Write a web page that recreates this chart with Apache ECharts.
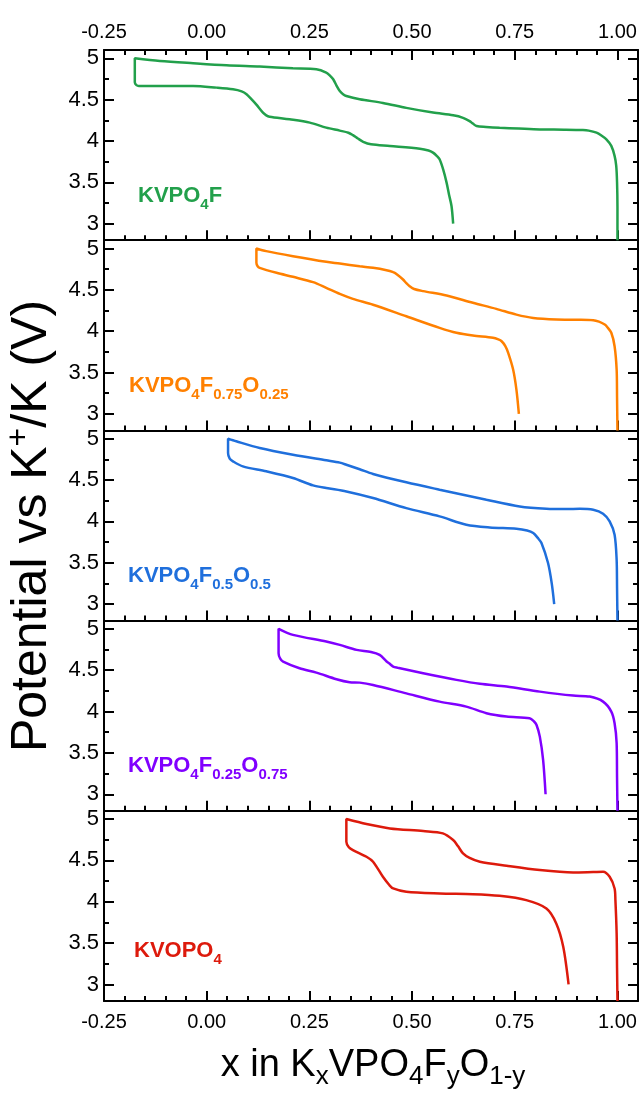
<!DOCTYPE html>
<html><head><meta charset="utf-8">
<script src="https://cdn.jsdelivr.net/npm/echarts@6/dist/echarts.min.js"></script>
<style>html,body{margin:0;padding:0;background:#fff}#c{width:642px;height:1095px}</style>
</head><body><div id="c"></div>
<script>
// ---------- data ----------
const xMajorTicks = [-0.25, 0, 0.25, 0.5, 0.75, 1.0];
const xMinorTicks = [-0.2,-0.15,-0.1,-0.05,0.05,0.1,0.15,0.2,0.3,0.35,0.4,0.45,0.55,0.6,0.65,0.7,0.8,0.85,0.9,0.95];
const yMajorTicks = [3, 3.5, 4, 4.5, 5];
const yMinorTicks = [3.25, 3.75, 4.25, 4.75];

const materials = ['KVPO4F', 'KVPO4F0.75O0.25', 'KVPO4F0.5O0.5', 'KVPO4F0.25O0.75', 'KVOPO4'];

const kvpo4fCharge = [[1.0,2.8],[1.0,3.2],[0.999,3.5],[0.997,3.7],[0.993,3.82],[0.985,3.94],[0.973,4.02],[0.96,4.07],[0.949,4.10],[0.93,4.125],[0.916,4.132],[0.87,4.137],[0.811,4.14],[0.76,4.15],[0.713,4.16],[0.68,4.17],[0.657,4.18],[0.648,4.21],[0.640,4.24],[0.624,4.28],[0.600,4.31],[0.551,4.343],[0.486,4.40],[0.429,4.46],[0.3725,4.505],[0.340,4.544],[0.332,4.565],[0.324,4.604],[0.316,4.67],[0.308,4.746],[0.300,4.79],[0.291,4.827],[0.267,4.867],[0.210,4.879],[0.129,4.899],[0.048,4.915],[-0.033,4.94],[-0.114,4.968],[-0.175,5.0]];
const kvpo4fDischarge = [[-0.175,5.0],[-0.175,4.80],[-0.175,4.71],[-0.171,4.675],[-0.165,4.665],[-0.114,4.665],[-0.033,4.665],[0.024,4.645],[0.064,4.625],[0.085,4.6],[0.097,4.565],[0.110,4.50],[0.121,4.44],[0.137,4.343],[0.145,4.31],[0.153,4.294],[0.202,4.262],[0.251,4.222],[0.291,4.161],[0.324,4.125],[0.345,4.10],[0.356,4.07],[0.368,4.03],[0.381,3.99],[0.40,3.96],[0.446,3.94],[0.519,3.907],[0.540,3.885],[0.551,3.859],[0.560,3.82],[0.567,3.778],[0.576,3.65],[0.584,3.496],[0.590,3.35],[0.596,3.213],[0.600,3.0]];

const f75Charge = [[1.0,2.8],[0.999,3.2],[0.998,3.536],[0.993,3.818],[0.985,3.98],[0.975,4.05],[0.969,4.08],[0.955,4.115],[0.941,4.133],[0.9,4.138],[0.851,4.141],[0.795,4.16],[0.754,4.20],[0.705,4.27],[0.648,4.343],[0.584,4.431],[0.527,4.484],[0.505,4.51],[0.494,4.544],[0.486,4.58],[0.478,4.625],[0.465,4.68],[0.454,4.713],[0.435,4.74],[0.405,4.766],[0.3725,4.785],[0.324,4.818],[0.291,4.839],[0.210,4.907],[0.145,4.968],[0.121,5.0]];
const f75Discharge = [[0.121,5.0],[0.121,4.90],[0.121,4.827],[0.124,4.785],[0.129,4.766],[0.170,4.706],[0.210,4.657],[0.259,4.593],[0.291,4.524],[0.324,4.45],[0.356,4.39],[0.405,4.32],[0.486,4.18],[0.567,4.04],[0.608,3.98],[0.648,3.947],[0.697,3.92],[0.710,3.90],[0.718,3.878],[0.727,3.82],[0.734,3.738],[0.746,3.536],[0.754,3.294],[0.760,3.0]];

const f50Charge = [[1.0,2.8],[0.999,3.2],[0.998,3.536],[0.993,3.838],[0.981,4.0],[0.965,4.093],[0.941,4.141],[0.908,4.153],[0.876,4.149],[0.827,4.153],[0.762,4.181],[0.681,4.262],[0.567,4.383],[0.486,4.472],[0.405,4.573],[0.3725,4.63],[0.340,4.685],[0.324,4.71],[0.291,4.738],[0.210,4.806],[0.129,4.887],[0.072,4.968],[0.052,5.0]];
const f50Discharge = [[0.052,5.0],[0.052,4.90],[0.052,4.827],[0.056,4.76],[0.064,4.726],[0.088,4.665],[0.145,4.605],[0.210,4.524],[0.259,4.435],[0.291,4.403],[0.340,4.362],[0.405,4.282],[0.486,4.16],[0.567,4.06],[0.632,3.96],[0.689,3.927],[0.754,3.911],[0.780,3.89],[0.795,3.859],[0.806,3.80],[0.815,3.738],[0.831,3.496],[0.840,3.25],[0.846,3.0]];

const f25Charge = [[1.0,2.8],[0.999,3.2],[0.998,3.617],[0.993,3.859],[0.985,4.0],[0.965,4.12],[0.9325,4.181],[0.892,4.193],[0.811,4.241],[0.730,4.302],[0.665,4.335],[0.608,4.383],[0.527,4.464],[0.465,4.53],[0.454,4.544],[0.445,4.58],[0.438,4.605],[0.421,4.685],[0.400,4.72],[0.365,4.746],[0.324,4.806],[0.291,4.847],[0.210,4.927],[0.175,5.0]];
const f25Discharge = [[0.175,5.0],[0.175,4.85],[0.175,4.706],[0.179,4.64],[0.186,4.605],[0.226,4.524],[0.267,4.471],[0.316,4.391],[0.348,4.355],[0.3725,4.35],[0.405,4.322],[0.486,4.22],[0.567,4.12],[0.632,4.06],[0.681,3.98],[0.730,3.939],[0.786,3.919],[0.797,3.88],[0.803,3.838],[0.811,3.697],[0.819,3.415],[0.825,3.0]];

const kvopo4Charge = [[1.0,2.8],[0.999,3.2],[0.998,3.617],[0.995,4.02],[0.993,4.161],[0.981,4.302],[0.965,4.363],[0.941,4.36],[0.892,4.355],[0.811,4.383],[0.730,4.435],[0.665,4.484],[0.640,4.53],[0.624,4.585],[0.612,4.67],[0.600,4.746],[0.575,4.827],[0.527,4.855],[0.446,4.887],[0.389,4.94],[0.340,5.0]];
const kvopo4Discharge = [[0.340,5.0],[0.340,4.85],[0.340,4.726],[0.346,4.66],[0.356,4.625],[0.389,4.544],[0.405,4.484],[0.429,4.302],[0.445,4.20],[0.454,4.161],[0.486,4.12],[0.567,4.10],[0.648,4.092],[0.713,4.072],[0.778,4.02],[0.827,3.919],[0.851,3.738],[0.868,3.455],[0.881,3.0]];

const chargeCurves = [kvpo4fCharge, f75Charge, f50Charge, f25Charge, kvopo4Charge];
const dischargeCurves = [kvpo4fDischarge, f75Discharge, f50Discharge, f25Discharge, kvopo4Discharge];
const colors = ['#22a04b', '#ff8000', '#1f6fdc', '#8000ff', '#dd1a0c'];
const labelTexts = [
  '{m|KVPO}{s|4}{m|F}',
  '{m|KVPO}{s|4}{m|F}{s|0.75}{m|O}{s|0.25}',
  '{m|KVPO}{s|4}{m|F}{s|0.5}{m|O}{s|0.5}',
  '{m|KVPO}{s|4}{m|F}{s|0.25}{m|O}{s|0.75}',
  '{m|KVOPO}{s|4}'
];

// ---------- layout ----------
const FONT = '"Liberation Sans", Arial, Helvetica, sans-serif';
const GL = 104, GW = 534, GT = 50, GH = 190.2;
const labelPos = [[138, 196], [129, 386], [128, 576], [128, 766], [134, 951]];

const chart = echarts.init(document.getElementById('c'));
const lineStyle = {color: '#000', width: 2};
const grids = [], xAxes = [], yAxes = [], series = [], graphics = [];

function xAx(i, pos, values, len, showLine, showLabel) {
  return {gridIndex: i, type: 'value', min: -0.25, max: 1.05, position: pos,
    axisLine: {show: showLine, onZero: false, lineStyle},
    axisTick: {show: true, inside: true, length: len, customValues: values, lineStyle: {color: '#000', width: 2}},
    axisLabel: {show: showLabel, customValues: values, formatter: v => v.toFixed(2), color: '#000',
      fontSize: 20, fontFamily: FONT, margin: pos === 'top' ? 8 : 11},
    splitLine: {show: false}, minorTick: {show: false}};
}
function yAx(i, pos, values, len, showLine, showLabel) {
  return {gridIndex: i, type: 'value', min: 2.8, max: 5.1, position: pos,
    axisLine: {show: showLine, onZero: false, lineStyle},
    axisTick: {show: true, inside: true, length: len, customValues: values, lineStyle: {color: '#000', width: 2}},
    axisLabel: {show: showLabel, customValues: values, color: '#000', fontSize: 22, fontFamily: FONT, margin: 5},
    splitLine: {show: false}, minorTick: {show: false}};
}

for (let i = 0; i < 5; i++) {
  grids.push({left: GL, width: GW, top: GT + i * GH, height: GH, containLabel: false});
  const xi = xAxes.length;
  xAxes.push(xAx(i, 'bottom', xMajorTicks, 10, true, i === 4));
  xAxes.push(xAx(i, 'bottom', xMinorTicks, 5, false, false));
  if (i === 0) {
    xAxes.push(xAx(i, 'top', xMajorTicks, 10, true, true));
    xAxes.push(xAx(i, 'top', xMinorTicks, 5, false, false));
  }
  const yi = yAxes.length;
  yAxes.push(yAx(i, 'left', yMajorTicks, 10, true, true));
  yAxes.push(yAx(i, 'left', yMinorTicks, 5, false, false));
  yAxes.push(yAx(i, 'right', yMajorTicks, 10, true, false));
  yAxes.push(yAx(i, 'right', yMinorTicks, 5, false, false));
  series.push({
    name: materials[i], type: 'line', xAxisIndex: xi, yAxisIndex: yi,
    data: chargeCurves[i].concat(dischargeCurves[i]),
    symbol: 'none', showSymbol: false, smooth: 0.3, clip: true,
    lineStyle: {color: colors[i], width: 2.5}, itemStyle: {color: colors[i]}
  });
  graphics.push({
    type: 'text', x: labelPos[i][0], y: labelPos[i][1], z: 100,
    style: {
      text: labelTexts[i], align: 'left', verticalAlign: 'middle',
      rich: {
        m: {fontSize: 22, fontWeight: 'bold', fontFamily: FONT, fill: colors[i], lineHeight: 34, verticalAlign: 'middle'},
        s: {fontSize: 15, fontWeight: 'bold', fontFamily: FONT, fill: colors[i], lineHeight: 34, padding: [17, 0, 0, 0], verticalAlign: 'middle'}
      }
    }
  });
}

// axis titles
graphics.push({
  type: 'text', x: 32, y: 526, rotation: Math.PI / 2, z: 100,
  style: {
    text: '{m|Potential vs K}{p|+}{m|/K (V)}', align: 'center', verticalAlign: 'middle',
    rich: {
      m: {fontSize: 50, fontFamily: FONT, fill: '#000', lineHeight: 60, verticalAlign: 'middle'},
      p: {fontSize: 32, fontFamily: FONT, fill: '#000', lineHeight: 60, padding: [0, 0, 26, 0], verticalAlign: 'middle'}
    }
  }
});
graphics.push({
  type: 'text', x: 373, y: 1066, z: 100,
  style: {
    text: '{m|x in K}{s|x}{m|VPO}{s|4}{m|F}{s|y}{m|O}{s|1-y}', align: 'center', verticalAlign: 'middle',
    rich: {
      m: {fontSize: 38, fontFamily: FONT, fill: '#000', lineHeight: 50, verticalAlign: 'middle'},
      s: {fontSize: 26, fontFamily: FONT, fill: '#000', lineHeight: 50, padding: [22, 0, 0, 0], verticalAlign: 'middle'}
    }
  }
});

chart.setOption({
  animation: false,
  backgroundColor: '#fff',
  grid: grids, xAxis: xAxes, yAxis: yAxes, series: series, graphic: graphics
});
</script></body></html>
